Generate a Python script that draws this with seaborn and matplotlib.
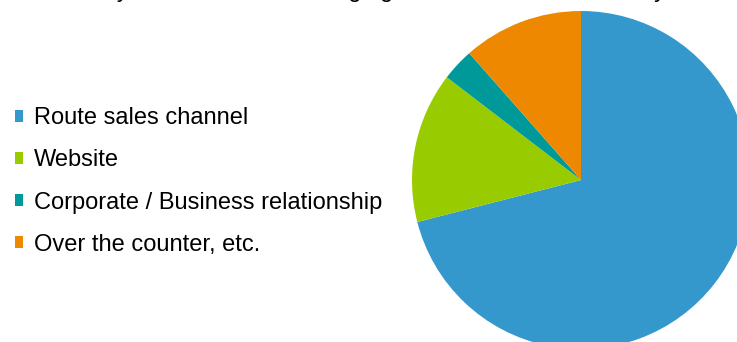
import matplotlib
matplotlib.use("Agg")
import matplotlib.pyplot as plt
import seaborn as sns

# Share of sales by channel (%)
channels = ["Route sales channel", "Website", "Corporate / Business relationship",
            "Over the counter, etc."]
shares = [71.0, 14.4, 3.1, 11.5]
colors = ["#3598CC", "#99CC00", "#009999", "#EE8800"]
title = "Sales by channel, firms managing direct route sales, fiscal year"

sns.set_theme(style="white")
plt.rcParams["font.family"] = ["Liberation Sans", "DejaVu Sans"]
palette = sns.color_palette(colors)

W, H, DPI = 737, 342, 100
fig = plt.figure(figsize=(W / DPI, H / DPI), dpi=DPI)
fig.patch.set_facecolor("white")

# pie: centre (581, 180) px, radius 169 px, clipped by the figure edge
r = 169
cx, cy = 581, 180
ax = fig.add_axes([(cx - r) / W, (H - cy - r) / H, 2 * r / W, 2 * r / H])
wedges, _ = ax.pie(shares, colors=palette, startangle=90, counterclock=False,
                   radius=1.0, wedgeprops=dict(linewidth=0))
ax.set_xlim(-1, 1)
ax.set_ylim(-1, 1)
ax.set_aspect("equal")
ax.axis("off")

fs = 23.6 * 72 / DPI
fig.legend(wedges, channels, loc="upper left", bbox_to_anchor=(15 / W, 1 - 107 / H),
           frameon=False, fontsize=fs, handlelength=0.34, handleheight=0.4,
           handletextpad=0.45, labelspacing=0.86, borderaxespad=0, borderpad=0,
           labelcolor="black")

# title sits above the top edge; only its descenders reach into view
fig.text(38 / W, 1 + 3 / H, title, fontsize=fs, ha="left", va="baseline",
         color="black")

fig.savefig("out.png", dpi=DPI, facecolor="white")
